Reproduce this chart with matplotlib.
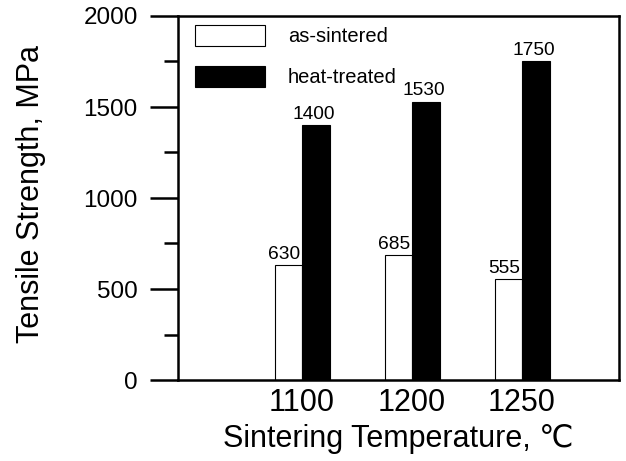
import matplotlib
matplotlib.use("Agg")
import matplotlib.pyplot as plt
import numpy as np

plt.rcParams['font.family'] = ['Liberation Sans', 'DejaVu Sans']

# данные
temperatures = ['1100', '1200', '1250']
as_sintered = [630, 685, 555]
heat_treated = [1400, 1530, 1750]

fig = plt.figure(figsize=(6.26, 4.61), dpi=100)
ax = fig.add_axes([178 / 626, 1 - 380 / 461, 441 / 626, 364 / 461])

x = np.arange(len(temperatures))
w = 0.25
b1 = ax.bar(x - w / 2, as_sintered, w, color='white', edgecolor='black',
            linewidth=0.8, label='as-sintered')
b2 = ax.bar(x + w / 2, heat_treated, w, color='black', edgecolor='black',
            linewidth=0.8, label='heat-treated')

# подписи значений над столбцами
for rect, v in zip(b1, as_sintered):
    ax.text(rect.get_x() + rect.get_width() / 2 - 0.04, v + 12, str(v),
            ha='center', va='bottom', fontsize=13.8)
for rect, v in zip(b2, heat_treated):
    ax.text(rect.get_x() + rect.get_width() / 2 - 0.02, v + 12, str(v),
            ha='center', va='bottom', fontsize=13.8)

ax.set_xlim((178 - 302) / 110, (619 - 302) / 110)
ax.set_ylim(0, 2000)
ax.set_yticks([0, 500, 1000, 1500, 2000])
ax.set_yticks([250, 750, 1250, 1750], minor=True)
ax.set_xticks(x)
ax.set_xticklabels(temperatures, fontsize=22)
ax.tick_params(axis='x', length=0, pad=6)
ax.tick_params(axis='y', which='major', length=20, width=1.8, labelsize=17.5, pad=9)
ax.tick_params(axis='y', which='minor', length=10, width=1.8)

for s in ax.spines.values():
    s.set_linewidth(1.8)

ax.set_ylabel('Tensile Strength, MPa', fontsize=22)
ax.yaxis.set_label_coords(-0.30, 0.51)
ax.set_xlabel('Sintering Temperature, \u2103', fontsize=22, labelpad=4)

ax.legend(loc='upper left', bbox_to_anchor=(17 / 441, 0.975), frameon=False,
          fontsize=14.5, handlelength=3.5, handleheight=1.2, labelspacing=1.0,
          handletextpad=1.1, borderpad=0, borderaxespad=0)

fig.savefig('out.png', dpi=100)
